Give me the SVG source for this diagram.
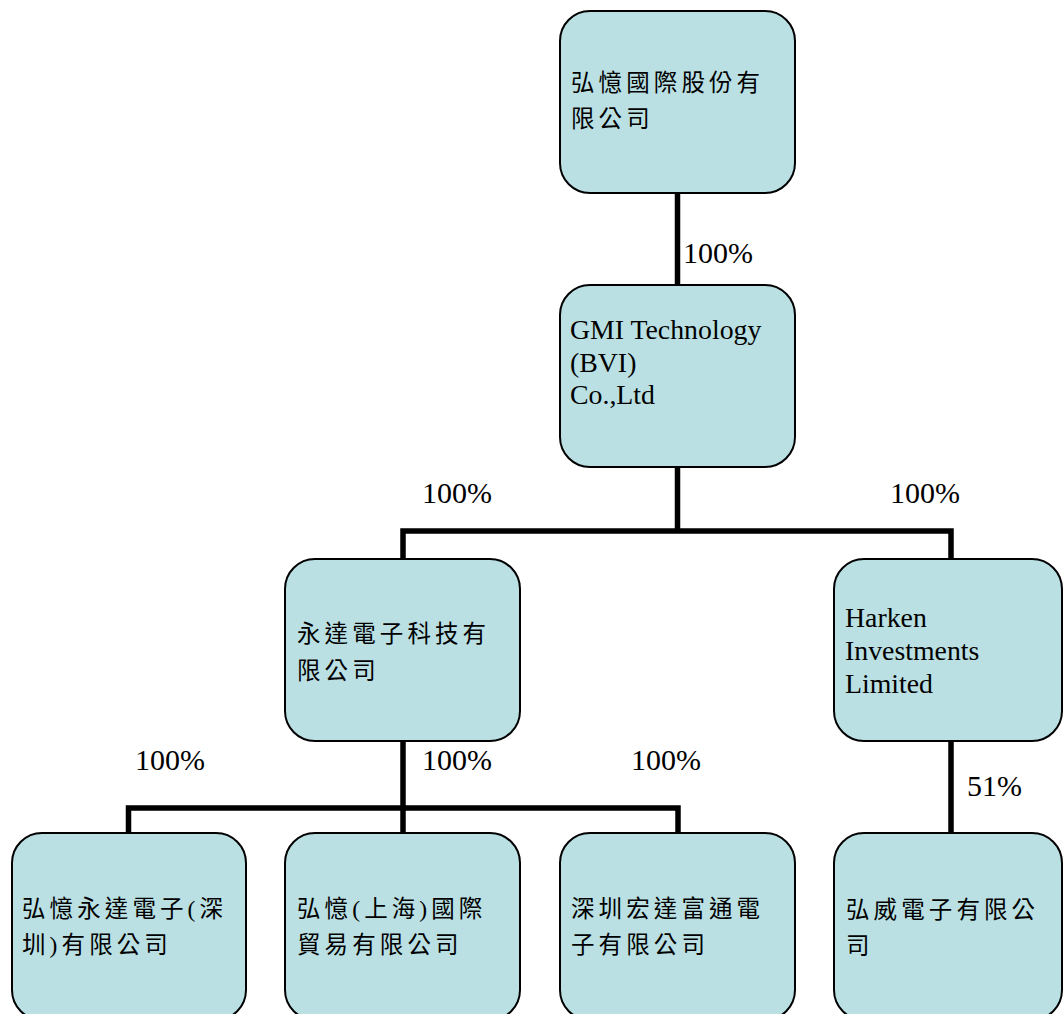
<svg xmlns="http://www.w3.org/2000/svg" width="1064" height="1014" viewBox="0 0 1064 1014">
<style>
.box{fill:#BAE0E3;stroke:#000;stroke-width:2}
.cn{fill:none;stroke:#000;stroke-width:5.5;stroke-linejoin:miter}
.zh{font-family:"Liberation Serif","Noto Sans CJK TC",serif;font-size:23.5px;letter-spacing:4.1px;fill:#000}
.en{font-family:"Liberation Serif",serif;font-size:27.8px;fill:#000}
.pct{font-family:"Liberation Serif",serif;font-size:30px;fill:#000}
</style>
<rect width="1064" height="1014" fill="#fff"/>
<g id="connectors">
<path class="cn" d="M677.5,193 V285"/>
<path class="cn" d="M677.5,467 V531"/>
<path class="cn" d="M403,559 V531 H951 V559"/>
<path class="cn" d="M403,741 V833"/>
<path class="cn" d="M128.5,833 V808 H678 V833"/>
<path class="cn" d="M951,741 V833"/>
<text class="pct" x="683" y="263">100%</text>
<text class="pct" x="422" y="503">100%</text>
<text class="pct" x="890" y="503">100%</text>
<text class="pct" x="135" y="770">100%</text>
<text class="pct" x="422" y="770">100%</text>
<text class="pct" x="631" y="770">100%</text>
<text class="pct" x="967" y="796">51%</text>
</g>
<g id="n-parent">
<rect class="box" x="560" y="11" width="235" height="182" rx="30"/>
<text class="zh" x="571" y="91">弘憶國際股份有</text>
<text class="zh" x="571" y="127">限公司</text>
</g>
<g id="n-gmi">
<rect class="box" x="560" y="285" width="235" height="182" rx="30"/>
<text class="en" x="570" y="339">GMI Technology</text>
<text class="en" x="570" y="372">(BVI)</text>
<text class="en" x="570" y="404">Co.,Ltd</text>
</g>
<g id="n-yongda">
<rect class="box" x="285" y="559" width="235" height="182" rx="30"/>
<text class="zh" x="297" y="641.5">永達電子科技有</text>
<text class="zh" x="297" y="678.5">限公司</text>
</g>
<g id="n-harken">
<rect class="box" x="834" y="559" width="228" height="182" rx="30"/>
<text class="en" x="845" y="627">Harken</text>
<text class="en" x="845" y="660">Investments</text>
<text class="en" x="845" y="693">Limited</text>
</g>
<g id="n-shenzhen">
<rect class="box" x="12" y="833" width="234" height="187" rx="30"/>
<text class="zh" x="22" y="917">弘憶永達電子(深</text>
<text class="zh" x="22" y="953">圳)有限公司</text>
</g>
<g id="n-shanghai">
<rect class="box" x="285" y="833" width="235" height="187" rx="30"/>
<text class="zh" x="297" y="917">弘憶(上海)國際</text>
<text class="zh" x="297" y="953">貿易有限公司</text>
</g>
<g id="n-hongda">
<rect class="box" x="560" y="833" width="235" height="187" rx="30"/>
<text class="zh" x="571" y="917">深圳宏達富通電</text>
<text class="zh" x="571" y="953">子有限公司</text>
</g>
<g id="n-hongwei">
<rect class="box" x="834" y="833" width="228" height="187" rx="30"/>
<text class="zh" x="846" y="918">弘威電子有限公</text>
<text class="zh" x="846" y="954">司</text>
</g>
</svg>
